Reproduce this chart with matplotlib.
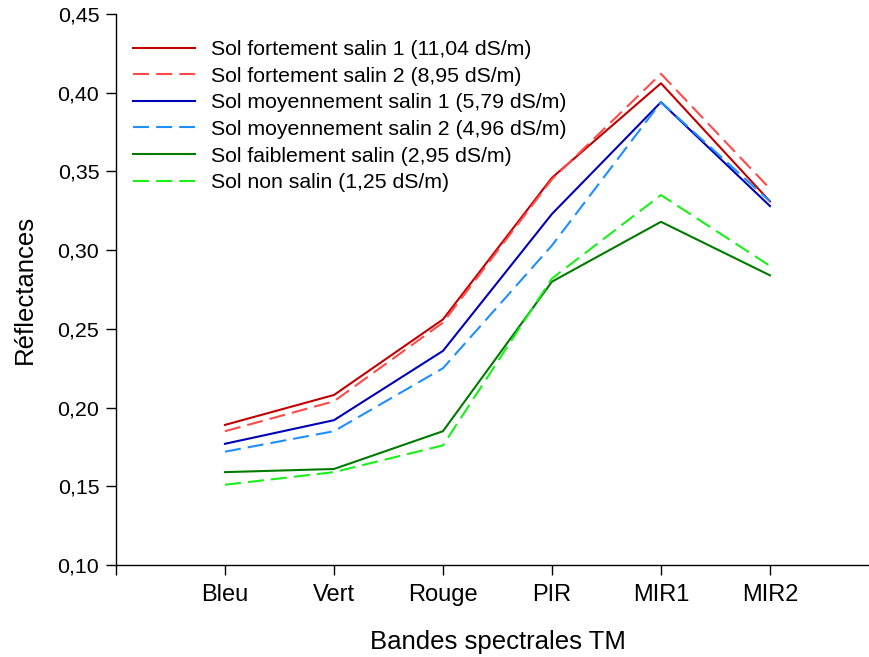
import matplotlib
matplotlib.use("Agg")
import matplotlib.pyplot as plt
from matplotlib.ticker import FixedLocator, FuncFormatter

plt.rcParams['font.family'] = ['Liberation Sans', 'DejaVu Sans']

bands = ["Bleu", "Vert", "Rouge", "PIR", "MIR1", "MIR2"]

fort_1 = [0.189, 0.208, 0.256, 0.346, 0.406, 0.331]
fort_2 = [0.185, 0.204, 0.254, 0.345, 0.412, 0.339]
moyen_1 = [0.177, 0.192, 0.236, 0.323, 0.394, 0.328]
moyen_2 = [0.172, 0.185, 0.225, 0.303, 0.394, 0.331]
faible = [0.159, 0.161, 0.185, 0.280, 0.318, 0.284]
non_salin = [0.151, 0.159, 0.176, 0.282, 0.335, 0.290]

labels = [
    "Sol fortement salin 1 (11,04 dS/m)",
    "Sol fortement salin 2 (8,95 dS/m)",
    "Sol moyennement salin 1 (5,79 dS/m)",
    "Sol moyennement salin 2 (4,96 dS/m)",
    "Sol faiblement salin (2,95 dS/m)",
    "Sol non salin (1,25 dS/m)",
]

series = [fort_1, fort_2, moyen_1, moyen_2, faible, non_salin]
colors = ["#C00000", "#FF4A4A", "#0000B8", "#1E8FFF", "#007A00", "#18F018"]
dashed = [False, True, False, True, False, True]

fig = plt.figure(figsize=(8.7, 6.57), dpi=100)
ax = fig.add_axes([0.1333, 0.140, 7 * 109 / 870, 0.8387])

x = list(range(1, len(bands) + 1))
for vals, lab, col, dsh in zip(series, labels, colors, dashed):
    if dsh:
        ax.plot(x, vals, color=col, lw=1.5, label=lab, dashes=(7.7, 3.4))
    else:
        ax.plot(x, vals, color=col, lw=1.5, label=lab)

ax.set_xlim(0, 7)
ax.set_ylim(0.10, 0.45)
ax.xaxis.set_major_locator(FixedLocator(list(range(0, 7))))
ax.set_xticklabels([""] + bands)
ax.yaxis.set_major_locator(FixedLocator([0.10, 0.15, 0.20, 0.25, 0.30, 0.35, 0.40, 0.45]))
ax.yaxis.set_major_formatter(FuncFormatter(lambda v, p: f"{v:.2f}".replace(".", ",")))

for side in ("top", "right"):
    ax.spines[side].set_visible(False)
for side in ("left", "bottom"):
    ax.spines[side].set_linewidth(1.0)
ax.tick_params(axis="both", direction="out", length=7, width=1.0)
ax.tick_params(axis="x", pad=7, labelsize=17)
ax.tick_params(axis="y", pad=5, labelsize=15.4)

ax.set_ylabel("Réflectances", fontsize=18.5, labelpad=15)
ax.set_xlabel("Bandes spectrales TM", fontsize=18.5, labelpad=17)

ax.legend(loc="upper left", bbox_to_anchor=(0.005, 0.976), frameon=False,
          fontsize=15.3, handlelength=2.92, handletextpad=0.75, labelspacing=0.36,
          borderaxespad=0.2)

fig.savefig("out.png", dpi=100)
